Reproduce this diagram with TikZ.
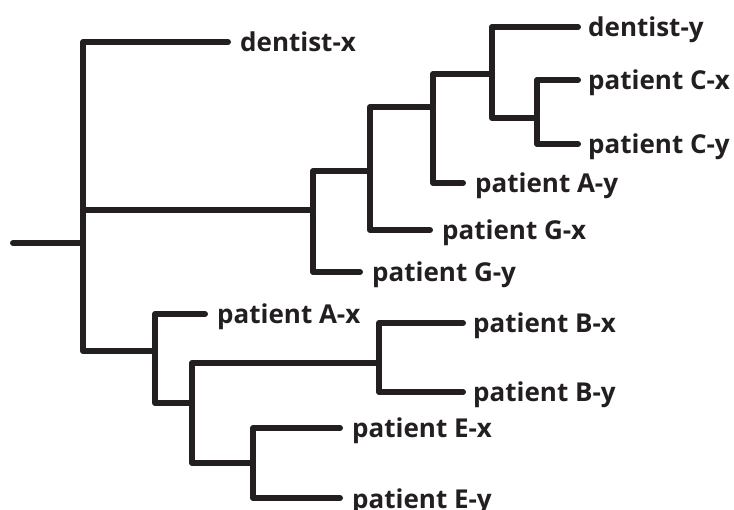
\documentclass[tikz,border=0pt]{standalone}
\usepackage{fontspec}
\setmainfont{Open Sans}
\definecolor{ink}{HTML}{231F20}
\begin{document}
\begin{tikzpicture}[x={(1pt,0)},y={(0,-1pt)},
  branch/.style={draw=ink,line width=6pt,line cap=round,line join=round},
  leaf/.style={anchor=base west,inner sep=0pt,text=ink,font=\fontsize{26}{30}\selectfont\bfseries}]
\useasboundingbox (0,0) rectangle (734,510);
% internal nodes
\coordinate (S) at (13,243);
\coordinate (R) at (83,243);
\coordinate (N1) at (313,210);
\coordinate (N2) at (370,171);
\coordinate (N3) at (433,107);
\coordinate (N4) at (492,74);
\coordinate (N5) at (537,118);
\coordinate (N6) at (155,351);
\coordinate (N7) at (192,403);
\coordinate (N8) at (379,363);
\coordinate (N9) at (253,463);
% leaf ends
\coordinate (DX) at (228,42);
\coordinate (GY) at (360,272);
\coordinate (GX) at (430,230);
\coordinate (AY) at (463,183);
\coordinate (DY) at (578,27);
\coordinate (CX) at (578,80);
\coordinate (CY) at (578,144);
\coordinate (AX) at (205,314);
\coordinate (BX) at (463,323);
\coordinate (BY) at (463,392);
\coordinate (EX) at (340,428);
\coordinate (EY) at (340,498);
% labels
\node[leaf] (lDX) at (240,52) {dentist-x};
\node[leaf] (lGY) at (372,282) {patient G-y};
\node[leaf] (lGX) at (442,240) {patient G-x};
\node[leaf] (lAY) at (475,193) {patient A-y};
\node[leaf] (lDY) at (588,37) {dentist-y};
\node[leaf] (lCX) at (588,90) {patient C-x};
\node[leaf] (lCY) at (588,154) {patient C-y};
\node[leaf] (lAX) at (217,324) {patient A-x};
\node[leaf] (lBX) at (473,333) {patient B-x};
\node[leaf] (lBY) at (473,402) {patient B-y};
\node[leaf] (lEX) at (352,438) {patient E-x};
\node[leaf] (lEY) at (352,508) {patient E-y};
% branches
\draw[branch] (S) -- (R);
\draw[branch] (R) |- (DX);
\draw[branch] (R) |- (N1);
\draw[branch] (R) |- (N6);
\draw[branch] (N1) |- (N2);
\draw[branch] (N1) |- (GY);
\draw[branch] (N2) |- (N3);
\draw[branch] (N2) |- (GX);
\draw[branch] (N3) |- (N4);
\draw[branch] (N3) |- (AY);
\draw[branch] (N4) |- (DY);
\draw[branch] (N4) |- (N5);
\draw[branch] (N5) |- (CX);
\draw[branch] (N5) |- (CY);
\draw[branch] (N6) |- (AX);
\draw[branch] (N6) |- (N7);
\draw[branch] (N7) |- (N8);
\draw[branch] (N7) |- (N9);
\draw[branch] (N8) |- (BX);
\draw[branch] (N8) |- (BY);
\draw[branch] (N9) |- (EX);
\draw[branch] (N9) |- (EY);
\end{tikzpicture}
\end{document}
